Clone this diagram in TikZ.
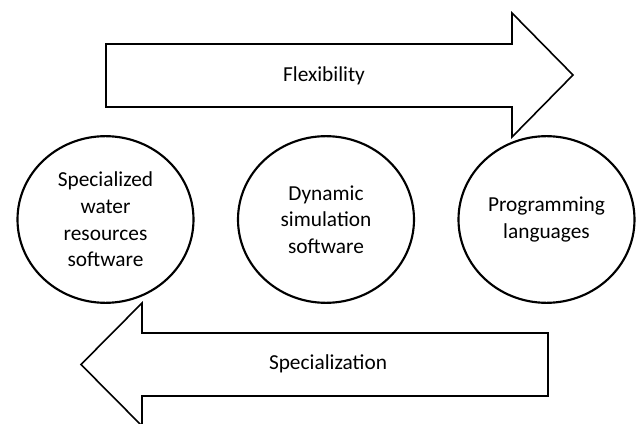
\documentclass[tikz,border=0pt]{standalone}
\usepackage{fontspec}
\setmainfont{Carlito}
\usetikzlibrary{shapes.geometric}
\tikzset{
	bigarrow/.style={draw, line width=1.2pt, line join=miter, fill=white},
	bubble/.style={draw, ellipse, line width=1.6pt, minimum width=132pt, minimum height=125pt, align=center, inner sep=0pt},
}
\begin{document}
\begin{tikzpicture}[x=0.75pt,y=-0.75pt,font=\fontsize{16}{20}\selectfont]
	\useasboundingbox (0,0) rectangle (636,424);
	% flexibility arrow
	\draw[bigarrow] (106,44) -- (512,44) -- (512,13) -- (573,75) -- (512,137) -- (512,107) -- (106,107) -- cycle;
	\node (flex) at (324,76) {Flexibility};
	% specialization arrow
	\draw[bigarrow] (548,333) -- (142,333) -- (142,303) -- (81,364.5) -- (142,426) -- (142,396) -- (548,396) -- cycle;
	\node (spec) at (328,364) {Specialization};
	% the three tools
	\node[bubble] (water) at (105.5,219.5) {Specialized\\water\\resources\\software};
	\node[bubble] (dynsim) at (326,219.5) {Dynamic\\simulation\\software};
	\node[bubble] (proglang) at (546.5,219.5) {Programming\\languages};
\end{tikzpicture}
\end{document}
